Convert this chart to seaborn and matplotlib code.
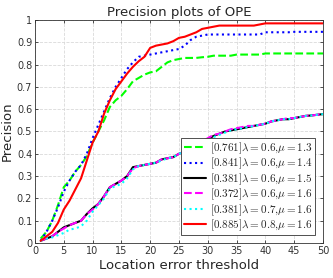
import numpy as np
import pandas as pd
import matplotlib
matplotlib.use("Agg")
import matplotlib.pyplot as plt
import seaborn as sns

thresholds = list(range(1, 51))

labels = [
    r"$[0.761]\lambda{=}0.6{,}\mu{=}1.3$",
    r"$[0.841]\lambda{=}0.6{,}\mu{=}1.4$",
    r"$[0.381]\lambda{=}0.6{,}\mu{=}1.5$",
    r"$[0.372]\lambda{=}0.6{,}\mu{=}1.6$",
    r"$[0.381]\lambda{=}0.7{,}\mu{=}1.6$",
    r"$[0.885]\lambda{=}0.8{,}\mu{=}1.6$",
]

green = [0.02, 0.05, 0.10, 0.17, 0.25, 0.28, 0.32, 0.35, 0.39, 0.45,
         0.50, 0.55, 0.61, 0.64, 0.66, 0.69, 0.725, 0.74, 0.755, 0.765,
         0.77, 0.79, 0.81, 0.82, 0.825, 0.83, 0.83, 0.83, 0.833, 0.835,
         0.84, 0.84, 0.84, 0.84, 0.845, 0.845, 0.845, 0.845, 0.845, 0.85,
         0.85, 0.85, 0.85, 0.85, 0.85, 0.85, 0.85, 0.85, 0.85, 0.85]
blue = [0.01, 0.05, 0.10, 0.16, 0.23, 0.28, 0.32, 0.35, 0.40, 0.47,
        0.53, 0.59, 0.65, 0.70, 0.74, 0.78, 0.81, 0.835, 0.84, 0.845,
        0.85, 0.855, 0.86, 0.865, 0.87, 0.885, 0.91, 0.925, 0.93, 0.935,
        0.935, 0.935, 0.935, 0.935, 0.935, 0.935, 0.935, 0.935, 0.935, 0.945,
        0.945, 0.945, 0.945, 0.945, 0.947, 0.947, 0.947, 0.947, 0.947, 0.947]
black = [0.01, 0.02, 0.03, 0.05, 0.07, 0.08, 0.09, 0.10, 0.13, 0.155,
         0.175, 0.21, 0.25, 0.265, 0.28, 0.30, 0.34, 0.345, 0.35, 0.355,
         0.36, 0.375, 0.38, 0.385, 0.40, 0.41, 0.42, 0.435, 0.45, 0.465,
         0.48, 0.49, 0.50, 0.505, 0.51, 0.515, 0.52, 0.525, 0.53, 0.535,
         0.545, 0.55, 0.555, 0.555, 0.56, 0.565, 0.57, 0.572, 0.575, 0.578]
magenta = [0.01, 0.02, 0.03, 0.05, 0.065, 0.08, 0.09, 0.10, 0.13, 0.15,
           0.175, 0.21, 0.25, 0.265, 0.28, 0.30, 0.335, 0.345, 0.35, 0.355,
           0.36, 0.375, 0.38, 0.385, 0.40, 0.41, 0.425, 0.44, 0.455, 0.47,
           0.485, 0.49, 0.50, 0.51, 0.515, 0.52, 0.525, 0.525, 0.53, 0.535,
           0.545, 0.55, 0.555, 0.56, 0.56, 0.565, 0.57, 0.572, 0.575, 0.578]
cyan = [0.01, 0.02, 0.025, 0.035, 0.045, 0.06, 0.065, 0.075, 0.10, 0.14,
        0.17, 0.20, 0.245, 0.255, 0.265, 0.29, 0.33, 0.345, 0.35, 0.355,
        0.36, 0.37, 0.38, 0.385, 0.40, 0.41, 0.42, 0.435, 0.45, 0.46,
        0.475, 0.485, 0.495, 0.505, 0.51, 0.515, 0.52, 0.525, 0.53, 0.535,
        0.545, 0.55, 0.555, 0.555, 0.56, 0.565, 0.57, 0.572, 0.575, 0.578]
red = [0.01, 0.03, 0.05, 0.09, 0.15, 0.19, 0.24, 0.29, 0.37, 0.45,
       0.50, 0.58, 0.64, 0.69, 0.725, 0.76, 0.79, 0.815, 0.835, 0.875,
       0.885, 0.89, 0.895, 0.905, 0.92, 0.925, 0.935, 0.945, 0.96, 0.965,
       0.97, 0.975, 0.975, 0.975, 0.975, 0.975, 0.975, 0.975, 0.98, 0.985,
       0.985, 0.985, 0.985, 0.985, 0.985, 0.985, 0.985, 0.985, 0.985, 0.985]

series = [green, blue, black, magenta, cyan, red]
colors = ["#00ff00", "#0000ff", "#000000", "#ff00ff", "#00ffff", "#ff0000"]
styles = ["--", ":", "-", "--", ":", "-"]

sns.set_style("whitegrid")
plt.rcParams["font.family"] = ["DejaVu Sans"]
plt.rcParams["mathtext.fontset"] = "cm"

fig = plt.figure(figsize=(3.33, 2.78), dpi=100)
ax = fig.add_axes([0.105, 0.126, 0.865, 0.802])

for vals, lab, c, ls in zip(series, labels, colors, styles):
    df = pd.DataFrame({"x": thresholds, "y": vals})
    sns.lineplot(data=df, x="x", y="y", ax=ax, color=c, linestyle=ls,
                 linewidth=1.5, label=lab)

ax.set_xlim(0, 50)
ax.set_ylim(0, 1)
ax.set_xticks(range(0, 51, 5))
ax.set_yticks(np.arange(0, 1.01, 0.1))
ax.set_yticklabels(["0", "0.1", "0.2", "0.3", "0.4", "0.5", "0.6", "0.7", "0.8", "0.9", "1"])
ax.tick_params(axis="both", labelsize=7, colors="#333333", direction="in",
               length=2.5, width=0.6, pad=2, top=True, right=True, bottom=True, left=True)
ax.grid(True, linestyle="--", color="#d9d9d9", linewidth=0.6)
for s in ax.spines.values():
    s.set_color("#333333")
    s.set_linewidth(0.6)
ax.set_title("Precision plots of OPE", fontsize=9.5, pad=3)
ax.set_xlabel("Location error threshold", fontsize=9.5, labelpad=2)
ax.set_ylabel("Precision", fontsize=9.5, labelpad=2)

leg = ax.legend(loc="lower right", fontsize=8, frameon=True, fancybox=False,
                edgecolor="#333333", framealpha=1, handlelength=2.0,
                handletextpad=0.4, borderpad=0.2, labelspacing=0.0,
                borderaxespad=0.7)
leg.get_frame().set_linewidth(0.6)

fig.savefig("out.png", dpi=100)
